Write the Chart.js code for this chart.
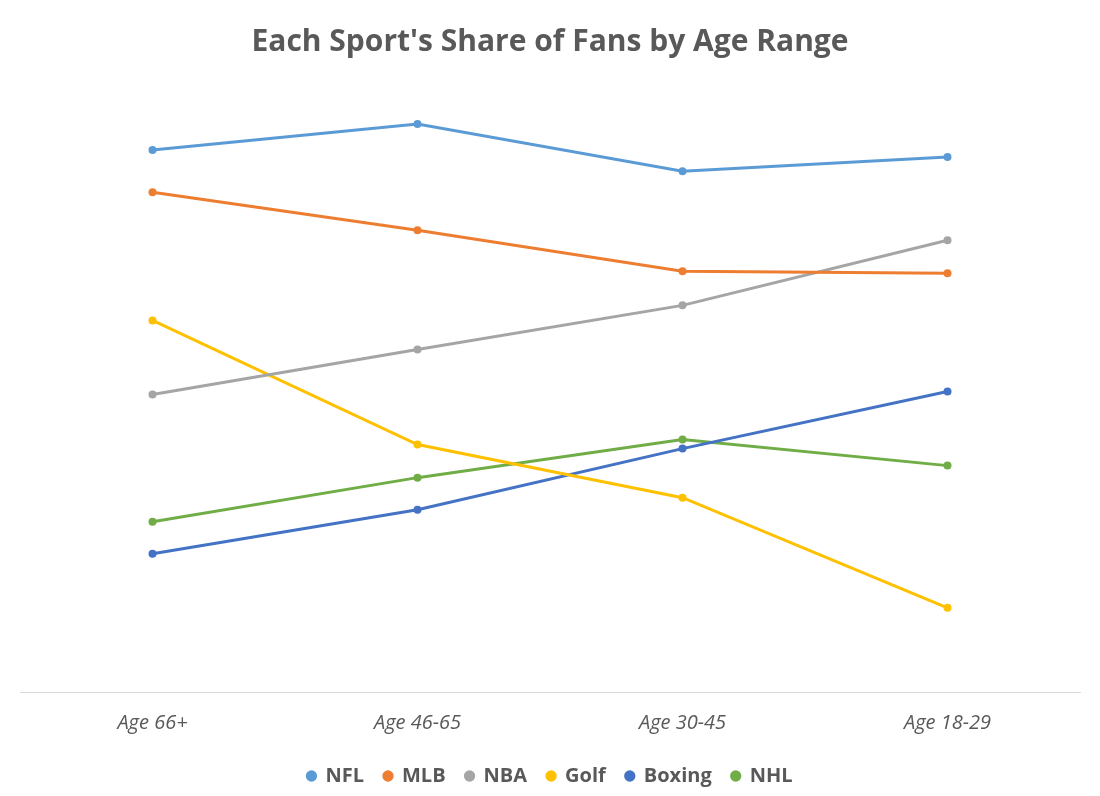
<!DOCTYPE html>
<html>
<head>
<script src="https://cdn.jsdelivr.net/npm/chart.js@4"></script>
<style>
  html, body { margin: 0; padding: 0; background: #fff; }
  #wrap { width: 1100px; height: 796px; }
</style>
</head>
<body>
<div id="wrap"><canvas id="chart"></canvas></div>
<script>
// categories and series (share of fans)
const ageRanges = ["Age 66+", "Age 46-65", "Age 30-45", "Age 18-29"];
const nfl = [54.1, 56.7, 52.0, 53.4];
const mlb = [49.9, 46.1, 42.0, 41.8];
const nba = [29.7, 34.2, 38.6, 45.1];
const golf = [37.1, 24.7, 19.4, 8.4];
const boxing = [13.8, 18.2, 24.3, 30.0];
const nhl = [17.0, 21.4, 25.2, 22.6];

const seriesNames = ["NFL", "MLB", "NBA", "Golf", "Boxing", "NHL"];
const seriesData = [nfl, mlb, nba, golf, boxing, nhl];
const seriesColors = ["#5b9bd5", "#ed7d31", "#a5a5a5", "#ffc000", "#4472c4", "#70ad47"];

document.addEventListener("DOMContentLoaded", function () {
  const ctx = document.getElementById("chart").getContext("2d");
  new Chart(ctx, {
    type: "line",
    data: {
      labels: ageRanges,
      datasets: seriesNames.map(function (name, i) {
        return {
          label: name,
          data: seriesData[i],
          borderColor: seriesColors[i],
          backgroundColor: seriesColors[i],
          borderWidth: 3,
          pointRadius: 4,
          pointBorderWidth: 0,
          tension: 0,
        };
      }),
    },
    options: {
      responsive: true,
      maintainAspectRatio: false,
      animation: false,
      layout: { padding: { left: 20, right: 20, top: 10, bottom: 0 } },
      scales: {
        y: { display: false, min: 0, max: 60 },
        x: {
          offset: true,
          grid: { display: false, offset: true },
          border: { color: "#d9d9d9", width: 1 },
          ticks: {
            color: "#595959",
            padding: 11,
            font: { family: "Open Sans", size: 20, style: "italic" },
          },
        },
      },
      plugins: {
        title: {
          display: true,
          text: "Each Sport's Share of Fans by Age Range",
          color: "#595959",
          font: { family: "Open Sans", size: 30, weight: "bold" },
          padding: { top: 14, bottom: 31 },
        },
        legend: {
          position: "bottom",
          labels: {
            usePointStyle: true,
            pointStyle: "circle",
            boxWidth: 8,
            boxHeight: 8,
            padding: 20,
            color: "#595959",
            font: { family: "Open Sans", size: 20, weight: "bold" },
          },
        },
        tooltip: { enabled: false },
      },
    },
  });
});
</script>
</body>
</html>
